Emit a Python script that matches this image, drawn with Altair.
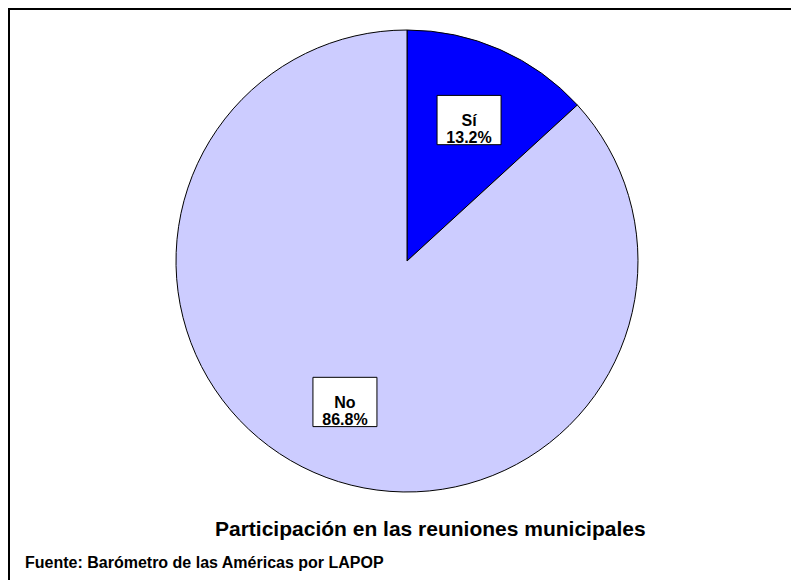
import altair as alt
import pandas as pd

labels = ["Sí", "No"]
values = [13.2, 86.8]
colors = ["#0000FF", "#CCCCFF"]
title_text = "Participación en las reuniones municipales"
source_text = "Fuente: Barómetro de las Américas por LAPOP"

W, H = 783, 572
CX, CY = 399, 253
R = 231
LABEL_R = 0.6667

df = pd.DataFrame({"label": labels, "value": values, "idx": list(range(len(labels)))})
base = alt.Chart(df)

pie = base.mark_arc(outerRadius=R, stroke="black", strokeWidth=1).encode(
    theta=alt.Theta("value:Q", stack=True),
    order=alt.Order("idx:Q"),
    color=alt.Color("label:N", scale=alt.Scale(domain=labels, range=colors), legend=None),
    x=alt.value(CX),
    y=alt.value(CY),
)

xscale = alt.Scale(domain=[-CX / R, (W - CX) / R], nice=False, zero=False)
yscale = alt.Scale(domain=[-(H - CY) / R, CY / R], nice=False, zero=False)

lab = base.transform_window(
    cum="sum(value)", sort=[alt.SortField("idx")], frame=[None, 0]
).transform_joinaggregate(total="sum(value)").transform_calculate(
    ang="2*PI*(datum.cum - datum.value/2)/datum.total",
    px=f"{LABEL_R}*sin(datum.ang)",
    py=f"{LABEL_R}*cos(datum.ang)",
    txt="datum.label + '\\n' + format(datum.value, '.1f') + '%'",
)

boxes = lab.mark_point(
    shape="M-1,-0.77H1V0.77H-1Z", size=64 * 64, filled=True,
    fill="white", stroke="black", strokeWidth=1, opacity=1,
).encode(
    x=alt.X("px:Q", scale=xscale, axis=None),
    y=alt.Y("py:Q", scale=yscale, axis=None),
)

texts = lab.mark_text(
    lineBreak="\n", font="Liberation Sans", fontWeight="bold", fontSize=16,
    lineHeight=17, align="center", baseline="middle", color="black", dy=1,
).encode(
    x=alt.X("px:Q", scale=xscale, axis=None),
    y=alt.Y("py:Q", scale=yscale, axis=None),
    text="txt:N",
)

title = alt.Chart(pd.DataFrame({"t": [title_text]})).mark_text(
    font="Liberation Sans", fontWeight="bold", fontSize=21, align="left",
    baseline="alphabetic", color="black",
).encode(x=alt.value(207), y=alt.value(528), text="t:N")

source = alt.Chart(pd.DataFrame({"t": [source_text]})).mark_text(
    font="Liberation Sans", fontWeight="bold", fontSize=16, align="left",
    baseline="alphabetic", color="black",
).encode(x=alt.value(17), y=alt.value(560), text="t:N")

border_left = alt.Chart(pd.DataFrame({"a": [0]})).mark_rule(
    color="black", strokeWidth=2
).encode(x=alt.value(1), y=alt.value(0), y2=alt.value(H))
border_top = alt.Chart(pd.DataFrame({"a": [0]})).mark_rule(
    color="black", strokeWidth=2
).encode(y=alt.value(1), x=alt.value(0), x2=alt.value(W))

chart = alt.layer(
    pie, boxes, texts, title, source, border_left, border_top
).properties(
    width=W, height=H, autosize=alt.AutoSizeParams(type="none"), padding=0,
    background="white",
).configure_view(stroke=None)

chart.save("out.html", embed_options={"renderer": "svg", "actions": False})
